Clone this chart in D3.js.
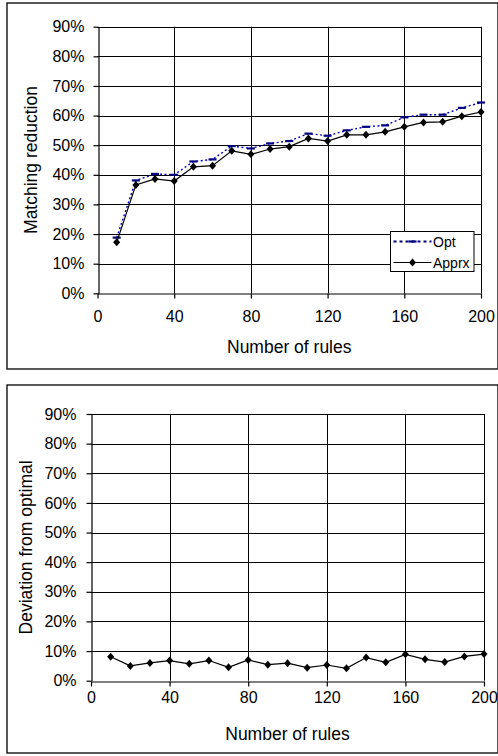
<!DOCTYPE html>
<html>
<head>
<meta charset="utf-8">
<script src="https://cdn.jsdelivr.net/npm/d3@7"></script>
<style>
  body { margin: 0; background: #fff; }
  svg text { font-family: "Liberation Sans", Arial, sans-serif; fill: #000; }
</style>
</head>
<body>
<div id="chart"></div>
<script>
// number of rules on the x axis
let rules = [10, 20, 30, 40, 50, 60, 70, 80, 90, 100, 110, 120, 130, 140, 150, 160, 170, 180, 190, 200];

// matching reduction (fraction)
let optValues = [0.188, 0.381, 0.403, 0.400, 0.445, 0.452, 0.497, 0.489, 0.506, 0.514,
                 0.539, 0.532, 0.550, 0.562, 0.567, 0.594, 0.603, 0.603, 0.626, 0.644];
let apprxValues = [0.172, 0.366, 0.386, 0.379, 0.427, 0.431, 0.481, 0.469, 0.487, 0.495,
                   0.523, 0.514, 0.535, 0.535, 0.545, 0.562, 0.577, 0.579, 0.598, 0.612];

// deviation from optimal (fraction)
let deviationValues = [0.081, 0.050, 0.060, 0.068, 0.057, 0.068, 0.045, 0.070, 0.054, 0.059,
                       0.044, 0.053, 0.042, 0.078, 0.062, 0.089, 0.072, 0.063, 0.082, 0.090];

let xTicks = [0, 40, 80, 120, 160, 200];
let yTicks = [0, 0.1, 0.2, 0.3, 0.4, 0.5, 0.6, 0.7, 0.8, 0.9];
let legendLabels = ['Opt', 'Apprx'];

let svg = d3.select('#chart')
  .append('svg')
    .attr('width', 498)
    .attr('height', 756);

// diamond marker centred on 0,0
function diamond(w, h) {
  return `M0,${-h}L${w},0L0,${h}L${-w},0Z`;
}

function drawPanel(cfg) {
  // outer frame
  svg.append('rect')
    .attr('x', cfg.frame[0]).attr('y', cfg.frame[1])
    .attr('width', cfg.frame[2]).attr('height', cfg.frame[3])
    .attr('fill', 'none').attr('stroke', '#000').attr('stroke-width', 1.3);

  let x = d3.scaleLinear().domain([0, 200]).range([cfg.left, cfg.right]);
  let y = d3.scaleLinear().domain([0, 0.9]).range([cfg.bottom, cfg.top]);

  let g = svg.append('g');

  // gridlines
  g.append('g').selectAll('line')
    .data(yTicks.filter(d => d > 0))
    .enter().append('line')
      .attr('x1', cfg.left).attr('x2', cfg.right)
      .attr('y1', d => Math.round(y(d)) + 0.5).attr('y2', d => Math.round(y(d)) + 0.5)
      .attr('stroke', '#000').attr('stroke-width', 1);
  g.append('g').selectAll('line')
    .data(xTicks.filter(d => d > 0))
    .enter().append('line')
      .attr('x1', d => Math.round(x(d)) + 0.5).attr('x2', d => Math.round(x(d)) + 0.5)
      .attr('y1', cfg.top).attr('y2', cfg.bottom)
      .attr('stroke', '#000').attr('stroke-width', 1);

  // axes
  let xAxis = g.append('g')
    .attr('transform', `translate(0,${Math.round(cfg.bottom) + 0.5})`)
    .call(d3.axisBottom(x).tickValues(xTicks).tickSize(5).tickPadding(13).tickSizeOuter(0));
  let yAxis = g.append('g')
    .attr('transform', `translate(${Math.round(cfg.left) + 0.5},0)`)
    .call(d3.axisLeft(y).tickValues(yTicks).tickFormat(d3.format('.0%')).tickSize(5).tickPadding(cfg.yPad).tickSizeOuter(0));
  [xAxis, yAxis].forEach(a => {
    a.selectAll('path, line').attr('stroke', '#000').attr('stroke-width', 1.2);
    a.selectAll('text').attr('font-size', '16px').attr('font-family', '"Liberation Sans", Arial, sans-serif');
  });
  xAxis.selectAll('text').attr('dy', null).attr('y', cfg.xLabelBase - cfg.bottom);

  // axis titles
  svg.append('text')
    .attr('x', (cfg.left + cfg.right) / 2).attr('y', cfg.xTitleBase)
    .attr('text-anchor', 'middle').attr('font-size', '17.5px')
    .text('Number of rules');
  svg.append('text')
    .attr('transform', `translate(${cfg.yTitleX},${(cfg.top + cfg.bottom) / 2}) rotate(-90)`)
    .attr('text-anchor', 'middle').attr('font-size', '17.5px')
    .text(cfg.yTitle);

  return {x: x, y: y, g: g};
}

function drawApprxSeries(p, values) {
  let line = d3.line().x((d, i) => p.x(rules[i])).y(d => p.y(d));
  p.g.append('path').datum(values)
    .attr('d', line).attr('fill', 'none').attr('stroke', '#000').attr('stroke-width', 1.2);
  p.g.append('g').selectAll('path')
    .data(values)
    .enter().append('path')
      .attr('transform', (d, i) => `translate(${p.x(rules[i])},${p.y(d)})`)
      .attr('d', diamond(3.5, 4)).attr('fill', '#000');
}

// ---- top panel: matching reduction ----
let panelA = drawPanel({
  frame: [7, 3, 491, 366],
  left: 97.5, right: 481, top: 26.7, bottom: 293.3,
  yPad: 9, xLabelBase: 321.5, xTitleBase: 352.5,
  yTitleX: 37, yTitle: 'Matching reduction'
});

let optLine = d3.line().x((d, i) => panelA.x(rules[i])).y(d => panelA.y(d));
panelA.g.append('path').datum(optValues)
  .attr('d', optLine).attr('fill', 'none')
  .attr('stroke', '#0000c0').attr('stroke-width', 1.4).attr('stroke-dasharray', '2,2.5');
panelA.g.append('g').selectAll('line')
  .data(optValues)
  .enter().append('line')
    .attr('x1', (d, i) => panelA.x(rules[i]) - 4).attr('x2', (d, i) => panelA.x(rules[i]) + 4)
    .attr('y1', d => panelA.y(d)).attr('y2', d => panelA.y(d))
    .attr('stroke', '#000080').attr('stroke-width', 2.2);

drawApprxSeries(panelA, apprxValues);

// legend
let legend = svg.append('g').attr('transform', 'translate(390.5,231.5)');
legend.append('rect')
  .attr('width', 83.5).attr('height', 40)
  .attr('fill', '#fff').attr('stroke', '#000').attr('stroke-width', 1);
legend.append('line')
  .attr('x1', 3).attr('x2', 41).attr('y1', 10).attr('y2', 10)
  .attr('stroke', '#000080').attr('stroke-width', 2).attr('stroke-dasharray', '3,3');
legend.append('line')
  .attr('x1', 18).attr('x2', 26).attr('y1', 10).attr('y2', 10)
  .attr('stroke', '#000080').attr('stroke-width', 2.2);
legend.append('line')
  .attr('x1', 3).attr('x2', 41).attr('y1', 31).attr('y2', 31)
  .attr('stroke', '#000').attr('stroke-width', 1.2);
legend.append('path')
  .attr('transform', 'translate(22,31)').attr('d', diamond(3.5, 4)).attr('fill', '#000');
legend.selectAll('text.lbl')
  .data(legendLabels)
  .enter().append('text')
    .attr('class', 'lbl')
    .attr('x', 42.5).attr('y', (d, i) => 15.5 + i * 21)
    .attr('font-size', '14px')
    .text(d => d);

// ---- bottom panel: deviation from optimal ----
let panelB = drawPanel({
  frame: [7, 385, 491, 368],
  left: 91, right: 484, top: 414, bottom: 680.7,
  yPad: 10, xLabelBase: 702.5, xTitleBase: 740,
  yTitleX: 31.5, yTitle: 'Deviation from optimal'
});

drawApprxSeries(panelB, deviationValues);
</script>
</body>
</html>
